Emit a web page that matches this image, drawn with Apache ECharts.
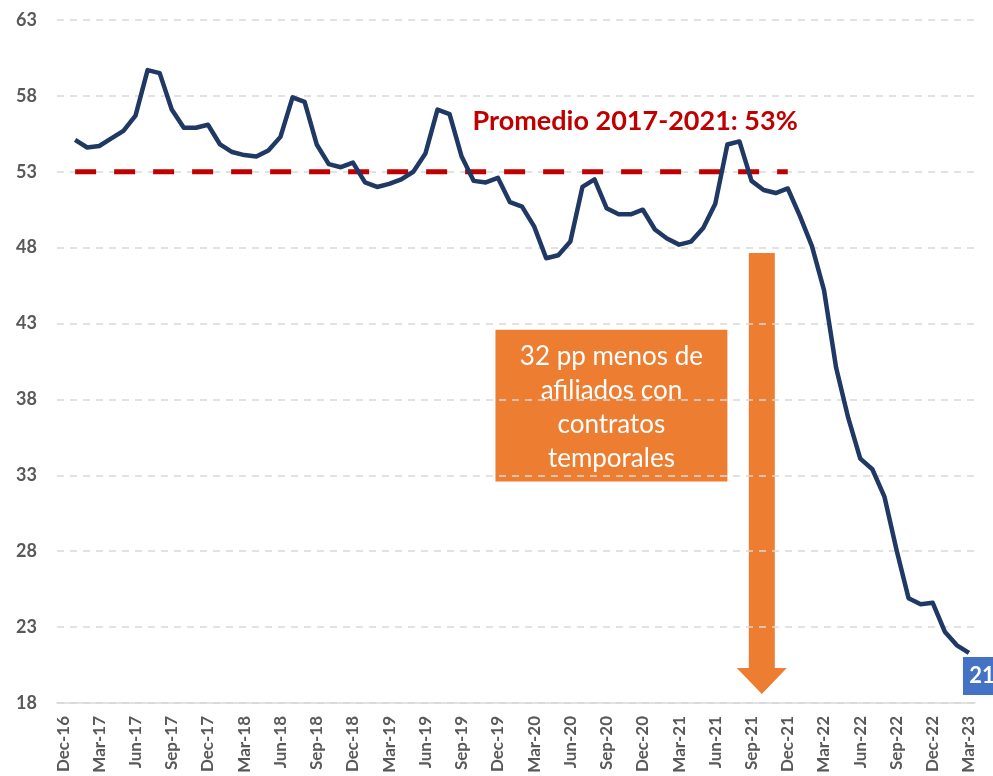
<!DOCTYPE html>
<html>
<head>
<meta charset="utf-8">
<script src="https://cdn.jsdelivr.net/npm/echarts@6/dist/echarts.min.js"></script>
<style>
  html, body { margin: 0; padding: 0; background: #fff; }
  #chart { width: 993px; height: 776px; }
</style>
</head>
<body>
<div id="chart"></div>
<script>
// categorías mensuales (Dec-16 .. Mar-23)
const months = [
  'Dec-16',
  'Jan-17', 'Feb-17', 'Mar-17', 'Apr-17', 'May-17', 'Jun-17', 'Jul-17', 'Aug-17', 'Sep-17', 'Oct-17', 'Nov-17', 'Dec-17',
  'Jan-18', 'Feb-18', 'Mar-18', 'Apr-18', 'May-18', 'Jun-18', 'Jul-18', 'Aug-18', 'Sep-18', 'Oct-18', 'Nov-18', 'Dec-18',
  'Jan-19', 'Feb-19', 'Mar-19', 'Apr-19', 'May-19', 'Jun-19', 'Jul-19', 'Aug-19', 'Sep-19', 'Oct-19', 'Nov-19', 'Dec-19',
  'Jan-20', 'Feb-20', 'Mar-20', 'Apr-20', 'May-20', 'Jun-20', 'Jul-20', 'Aug-20', 'Sep-20', 'Oct-20', 'Nov-20', 'Dec-20',
  'Jan-21', 'Feb-21', 'Mar-21', 'Apr-21', 'May-21', 'Jun-21', 'Jul-21', 'Aug-21', 'Sep-21', 'Oct-21', 'Nov-21', 'Dec-21',
  'Jan-22', 'Feb-22', 'Mar-22', 'Apr-22', 'May-22', 'Jun-22', 'Jul-22', 'Aug-22', 'Sep-22', 'Oct-22', 'Nov-22', 'Dec-22',
  'Jan-23', 'Feb-23', 'Mar-23'
];

// % afiliados con contrato temporal
const temporales = [
  null,
  55.1, 54.6, 54.7, 55.2, 55.7, 56.7, 59.7, 59.5, 57.1, 55.9, 55.9, 56.1,
  54.8, 54.3, 54.1, 54.0, 54.4, 55.3, 57.9, 57.6, 54.8, 53.5, 53.3, 53.6,
  52.3, 52.0, 52.2, 52.5, 53.0, 54.2, 57.1, 56.8, 54.0, 52.4, 52.3, 52.6,
  51.0, 50.7, 49.4, 47.3, 47.5, 48.4, 52.0, 52.5, 50.6, 50.2, 50.2, 50.5,
  49.2, 48.6, 48.2, 48.4, 49.3, 50.9, 54.8, 55.0, 52.4, 51.8, 51.6, 51.9,
  50.1, 48.1, 45.2, 40.1, 36.8, 34.1, 33.4, 31.6, 28.1, 24.9, 24.5, 24.6,
  22.7, 21.8, 21.3
];

// promedio 2017-2021
const promedio = 53;
const promedioDesde = 'Jan-17';
const promedioHasta = 'Dec-21';
const promedioTexto = 'Promedio 2017-2021: 53%';

const notaLineas = ['32 pp menos de', 'afiliados con', 'contratos', 'temporales'];
const ultimoTexto = '21';

const i0 = months.indexOf(promedioDesde), i1 = months.indexOf(promedioHasta);
const promedioData = months.map((m, i) => (i >= i0 && i <= i1) ? promedio : null);
const last = months.length - 1;

const chart = echarts.init(document.getElementById('chart'));

const option = {
  animation: false,
  grid: { left: 57, right: 18, top: 20, bottom: 73 },
  xAxis: {
    type: 'category',
    data: months,
    boundaryGap: true,
    axisLine: { show: true, lineStyle: { color: '#d9d9d9', width: 1.5 } },
    axisTick: { show: false },
    axisLabel: {
      interval: 2,
      rotate: 90,
      margin: 13,
      color: '#595959',
      fontFamily: 'Lato',
      fontWeight: 'bold',
      fontSize: 17
    },
    splitLine: { show: false }
  },
  yAxis: {
    type: 'value',
    min: 18,
    max: 63,
    interval: 5,
    axisLine: { show: false },
    axisTick: { show: false },
    axisLabel: {
      margin: 20,
      color: '#595959',
      fontFamily: 'Lato',
      fontWeight: 'bold',
      fontSize: 18
    },
    splitLine: { lineStyle: { color: '#d9d9d9', type: [7, 6], width: 1.5 } }
  },
  series: [
    {
      name: 'Promedio',
      type: 'line',
      data: promedioData,
      symbol: 'none',
      lineStyle: { color: '#c00000', width: 5, type: [21, 18] },
      z: 3
    },
    {
      name: 'Temporales',
      type: 'line',
      data: temporales,
      symbol: 'none',
      lineStyle: { color: '#1f3864', width: 4.5, join: 'round' },
      z: 4,
      markPoint: {
        symbol: 'rect',
        symbolSize: [38, 38],
        symbolOffset: [13, 23],
        itemStyle: { color: '#4472c4' },
        label: {
          show: true,
          formatter: ultimoTexto,
          color: '#fff',
          fontFamily: 'Lato',
          fontWeight: 'bold',
          fontSize: 22
        },
        data: [{ coord: [months[last], temporales[last]] }]
      }
    }
  ]
};
chart.setOption(option);

// posiciones de anotaciones a partir de los ejes
function px(cat, frac) {
  const a = chart.convertToPixel({ xAxisIndex: 0 }, cat);
  const b = chart.convertToPixel({ xAxisIndex: 0 }, months[months.indexOf(cat) + 1]);
  return a + (b - a) * (frac || 0);
}
function py(v) { return chart.convertToPixel({ yAxisIndex: 0 }, v); }

const boxL = px('Nov-19', 0.8), boxR = px('Jul-21', 0);
const boxT = py(42.6), boxB = py(32.6);
const arrX = px('Sep-21', 0.85);
const arrT = py(47.65), headT = py(20.3), tip = py(18.6);

chart.setOption({
  graphic: [
    {
      type: 'text',
      x: px('Sep-19', 0.9),
      y: py(56.35),
      style: {
        text: promedioTexto,
        fill: '#c00000',
        font: 'bold 27px Lato',
        verticalAlign: 'middle'
      }
    },
    {
      type: 'rect',
      z: -1,
      shape: { x: boxL, y: boxT, width: boxR - boxL, height: boxB - boxT },
      style: { fill: '#ed7d31' }
    },
    {
      type: 'text',
      z: -1,
      x: (boxL + boxR) / 2,
      y: (boxT + boxB) / 2 + 2,
      style: {
        text: notaLineas.join('\n'),
        fill: '#fff',
        font: '26px Lato',
        lineHeight: 34,
        align: 'center',
        verticalAlign: 'middle'
      }
    },
    {
      type: 'polygon',
      z: -1,
      shape: {
        points: [
          [arrX - 13, arrT], [arrX + 13, arrT], [arrX + 13, headT],
          [arrX + 25, headT], [arrX, tip], [arrX - 25, headT], [arrX - 13, headT]
        ]
      },
      style: { fill: '#ed7d31' }
    }
  ]
});
</script>
</body>
</html>
